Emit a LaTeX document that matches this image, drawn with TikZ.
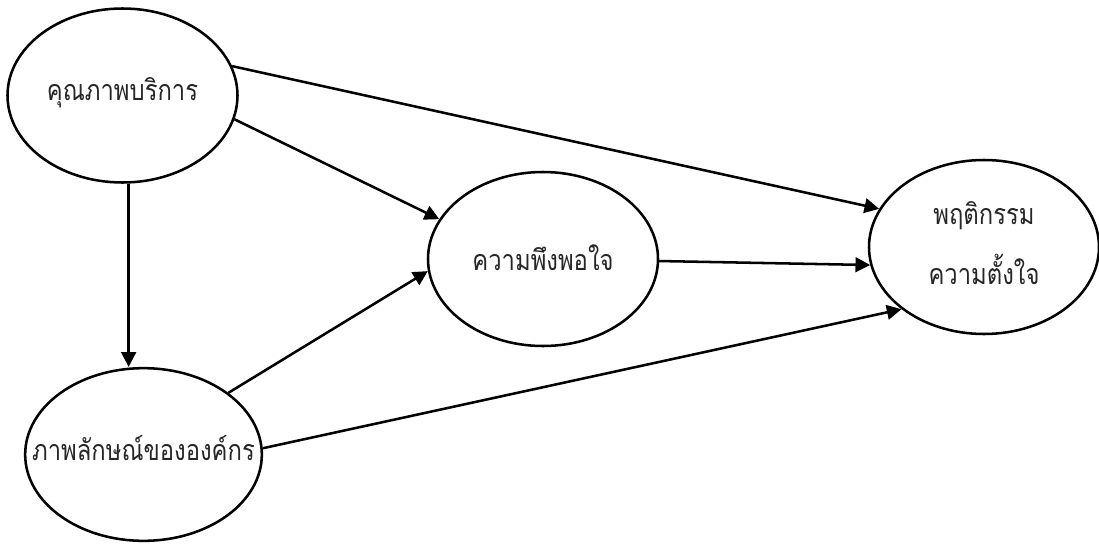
\documentclass[tikz,border=0pt]{standalone}
\usepackage{fontspec}
\newfontfamily\thaifont[Script=Thai,FakeStretch=0.83]{Loma}
\usetikzlibrary{arrows.meta,shapes.geometric}
\begin{document}
\begin{tikzpicture}[x=0.75pt,y=-0.75pt,
  ell/.style={ellipse,draw=black,line width=1.9pt,inner sep=0pt,minimum width=172.5pt,minimum height=130.5pt},
  lbl/.style={font=\thaifont\fontsize{21.5}{45}\selectfont,align=center,text=black!85},
  conn/.style={line width=1.9pt,-{Triangle[length=11pt,width=11pt]}}]
\useasboundingbox (0,0) rectangle (1099,543);
\node[ell] (e1) at (122.5,95.5) {};
\node[ell,minimum width=177.5pt,minimum height=129.5pt] (e2) at (143.5,454.5) {};
\node[ell] (e3) at (543,259) {};
\node[ell] (e4) at (984,247) {};
\node[lbl] (t1) at ([yshift=2pt]e1.center) {คุณภาพบริการ};
\node[lbl] (t2) at ([yshift=5pt]e2.center) {ภาพลักษณ์ขององค์กร};
\node[lbl] (t3) at ([yshift=1pt]e3.center) {ความพึงพอใจ};
\node[lbl] (t4) at ([yshift=3pt]e4.center) {พฤติกรรม\\ความตั้งใจ};
\draw[conn] (e1.-86.5) -- (e1.-86.5 |- e2.north);
\draw[conn] (e1.15) -- (e4.160);
\draw[conn] (e1.-12) -- (e3.159);
\draw[conn] (e2.36) -- (e3.186.5);
\draw[conn] (e2.3) -- (e4.217);
\draw[conn] (e3.-1) -- (e4.189);
\end{tikzpicture}
\end{document}
